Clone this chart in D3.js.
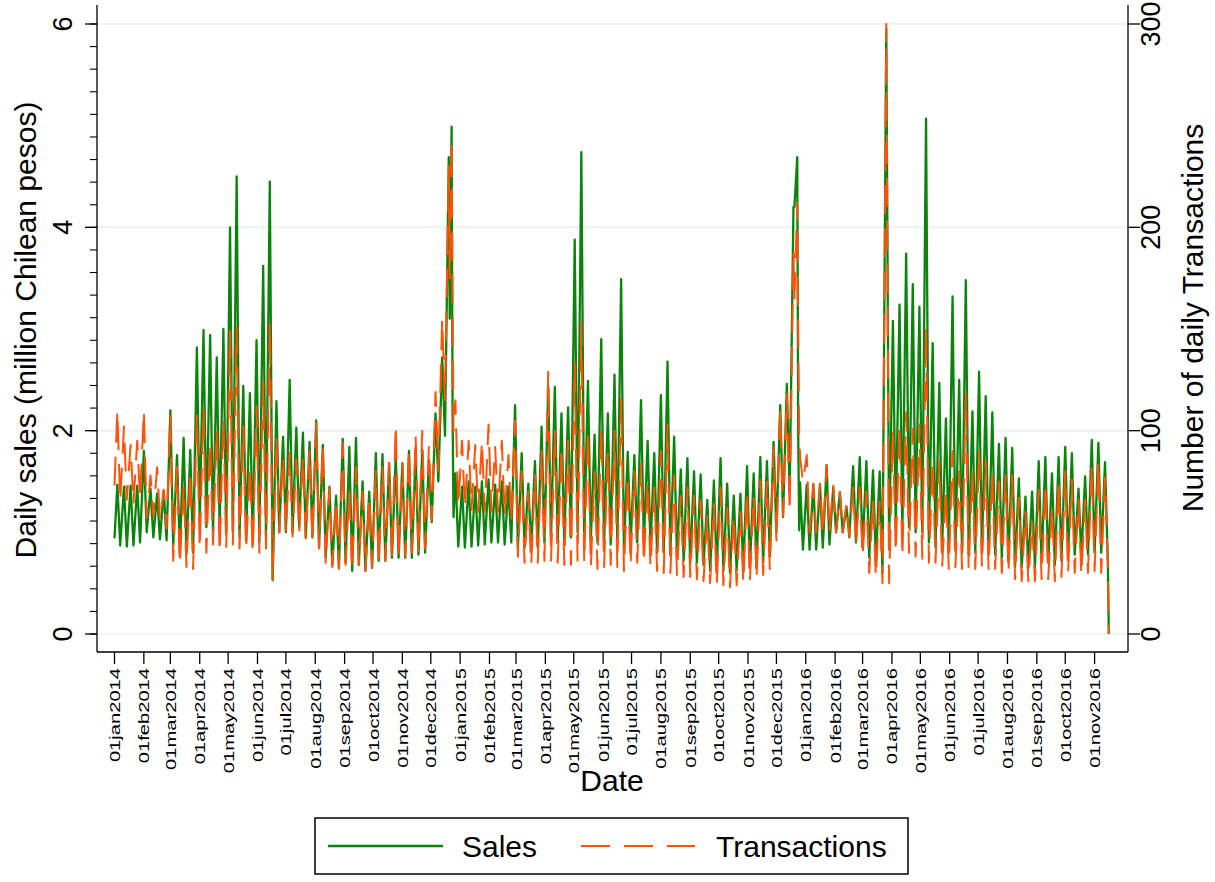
<!DOCTYPE html>
<html>
<head>
<meta charset="utf-8">
<script src="https://cdn.jsdelivr.net/npm/d3@7"></script>
<style>
  body { margin: 0; background: #fff; }
  svg { display: block; }
  text { font-family: "Liberation Sans", Arial, Helvetica, sans-serif; fill: #000; }
</style>
</head>
<body>
<svg id="chart" width="1215" height="882"></svg>
<script>
// Daily sales (million CLP) and number of daily transactions, weekly peaks and lows
const dates2014 = ["2014-01-01","2014-01-04","2014-01-07","2014-01-11","2014-01-14","2014-01-18","2014-01-21","2014-01-25","2014-01-28",
  "2014-02-01","2014-02-04","2014-02-08","2014-02-11","2014-02-15","2014-02-18","2014-02-22","2014-02-25",
  "2014-03-01","2014-03-04","2014-03-08","2014-03-11","2014-03-15","2014-03-18","2014-03-22","2014-03-25","2014-03-29",
  "2014-04-01","2014-04-05","2014-04-08","2014-04-12","2014-04-15","2014-04-19","2014-04-22","2014-04-26","2014-04-29",
  "2014-05-03","2014-05-06","2014-05-10","2014-05-13","2014-05-17","2014-05-20","2014-05-24","2014-05-27","2014-05-31",
  "2014-06-03","2014-06-07","2014-06-10","2014-06-14","2014-06-17","2014-06-21","2014-06-24","2014-06-28",
  "2014-07-01","2014-07-05","2014-07-08","2014-07-12","2014-07-15","2014-07-19","2014-07-22","2014-07-26","2014-07-29",
  "2014-08-02","2014-08-05","2014-08-09","2014-08-12","2014-08-16","2014-08-19","2014-08-23","2014-08-26","2014-08-30",
  "2014-09-02","2014-09-06","2014-09-09","2014-09-13","2014-09-16","2014-09-20","2014-09-23","2014-09-27","2014-09-30",
  "2014-10-04","2014-10-07","2014-10-11","2014-10-14","2014-10-18","2014-10-21","2014-10-25","2014-10-28",
  "2014-11-01","2014-11-04","2014-11-08","2014-11-11","2014-11-15","2014-11-18","2014-11-22","2014-11-25","2014-11-29",
  "2014-12-02","2014-12-06","2014-12-09","2014-12-13","2014-12-16","2014-12-20","2014-12-21","2014-12-23","2014-12-24",
  "2014-12-25","2014-12-27","2014-12-30"];
const sales2014 = [0.94,1.47,0.87,1.45,0.86,1.46,0.87,1.46,0.90,
  1.80,1.00,1.43,0.95,1.38,0.93,1.41,0.92,
  2.20,0.86,1.76,0.80,1.93,0.78,1.81,0.80,2.82,
  1.10,2.99,1.05,2.94,1.00,2.72,1.05,3.00,1.00,
  4.00,1.00,4.50,0.95,2.44,0.92,2.37,0.88,2.89,
  0.90,3.62,0.95,4.45,0.53,2.29,1.00,1.94,
  1.00,2.50,1.00,2.03,1.05,1.98,0.95,1.89,0.95,
  2.10,0.85,1.86,0.75,1.45,0.68,1.36,0.65,1.92,
  0.70,1.84,0.62,1.93,0.68,1.50,0.62,1.40,0.65,
  1.78,0.72,1.77,0.72,1.68,0.75,1.75,0.75,
  1.68,0.75,1.80,0.75,1.78,0.78,1.81,0.80,1.71,
  1.10,2.17,1.50,2.72,1.95,4.69,3.10,4.99,2.20,
  1.15,1.58,0.86];
const transactions2014 = [73,110,65,102,66,93,64,95,66,
  110,57,78,58,82,56,71,52,
  108,36,82,34,73,33,80,32,108,
  42,110,40,94,44,101,40,106,42,
  149,44,151,42,102,42,82,40,112,
  40,124,42,153,27,97,50,87,
  50,89,48,86,50,87,47,90,45,
  104,42,93,35,72,33,66,32,94,
  34,71,31,82,34,70,31,67,33,
  80,34,82,36,84,37,103,38,
  84,38,91,40,98,40,100,42,92,
  56,119,80,155,115,230,175,243,165,
  100,115,63];

const dates2015 = ["2015-01-03","2015-01-06","2015-01-10","2015-01-13","2015-01-17","2015-01-20","2015-01-24","2015-01-27","2015-01-31",
  "2015-02-03","2015-02-07","2015-02-10","2015-02-14","2015-02-17","2015-02-21","2015-02-24","2015-02-28",
  "2015-03-03","2015-03-07","2015-03-10","2015-03-14","2015-03-17","2015-03-21","2015-03-24","2015-03-28","2015-03-31",
  "2015-04-04","2015-04-07","2015-04-11","2015-04-14","2015-04-18","2015-04-21","2015-04-25","2015-04-28",
  "2015-05-02","2015-05-05","2015-05-09","2015-05-12","2015-05-16","2015-05-19","2015-05-23","2015-05-26","2015-05-30",
  "2015-06-02","2015-06-06","2015-06-09","2015-06-13","2015-06-16","2015-06-20","2015-06-23","2015-06-27","2015-06-30",
  "2015-07-04","2015-07-07","2015-07-11","2015-07-14","2015-07-18","2015-07-21","2015-07-25","2015-07-28",
  "2015-08-01","2015-08-04","2015-08-08","2015-08-11","2015-08-15","2015-08-18","2015-08-22","2015-08-25","2015-08-29",
  "2015-09-01","2015-09-05","2015-09-08","2015-09-12","2015-09-15","2015-09-19","2015-09-22","2015-09-26","2015-09-29",
  "2015-10-03","2015-10-06","2015-10-10","2015-10-13","2015-10-17","2015-10-20","2015-10-24","2015-10-27","2015-10-31",
  "2015-11-03","2015-11-07","2015-11-10","2015-11-14","2015-11-17","2015-11-21","2015-11-24","2015-11-28",
  "2015-12-01","2015-12-05","2015-12-08","2015-12-12","2015-12-15","2015-12-19","2015-12-20","2015-12-23","2015-12-24",
  "2015-12-25","2015-12-26","2015-12-29"];
const sales2015 = [1.45,0.85,1.50,0.86,1.45,0.87,1.50,0.88,1.52,
  0.90,1.47,0.90,1.50,0.88,1.45,0.90,2.25,
  0.85,1.78,0.85,1.48,0.82,1.70,0.85,2.04,0.90,
  2.43,0.95,2.43,0.90,2.17,0.92,2.23,0.95,
  3.88,1.00,4.74,0.95,2.49,0.92,1.96,0.90,2.90,
  0.90,2.17,0.88,2.55,0.90,3.49,0.85,1.79,0.88,
  1.76,0.90,2.30,0.90,1.90,0.85,1.78,0.80,
  2.35,0.80,2.68,0.80,1.94,0.75,1.62,0.72,1.73,
  0.70,1.60,0.70,1.57,0.68,1.32,0.62,1.51,0.62,
  1.73,0.62,1.48,0.60,1.36,0.62,1.38,0.63,1.65,
  0.65,1.58,0.66,1.74,0.70,1.70,0.76,1.89,
  1.00,2.25,1.15,2.46,1.39,4.20,4.20,4.69,2.00,
  1.02,1.49,0.83];
const transactions2015 = [95,62,95,61,93,60,95,60,103,
  60,92,60,95,58,88,55,105,
  38,80,35,70,34,78,35,90,36,
  129,36,100,35,92,34,95,34,
  133,36,153,35,100,33,80,32,102,
  33,90,34,100,33,116,31,78,34,
  80,35,84,35,75,33,72,31,
  90,30,103,30,78,29,68,28,72,
  28,68,27,66,26,58,25,64,24,
  72,24,62,23,58,24,60,25,70,
  26,68,27,76,29,75,32,92,
  46,111,58,118,60,189,165,212,150,
  99,87,75];

const dates2016 = ["2016-01-02","2016-01-05","2016-01-09","2016-01-12","2016-01-16","2016-01-19","2016-01-23","2016-01-26","2016-01-30",
  "2016-02-02","2016-02-06","2016-02-09","2016-02-13","2016-02-16","2016-02-20","2016-02-23","2016-02-27",
  "2016-03-01","2016-03-05","2016-03-08","2016-03-12","2016-03-15","2016-03-19","2016-03-22","2016-03-26","2016-03-29",
  "2016-04-02","2016-04-05","2016-04-09","2016-04-12","2016-04-16","2016-04-19","2016-04-23","2016-04-26","2016-04-30",
  "2016-05-03","2016-05-07","2016-05-10","2016-05-14","2016-05-17","2016-05-21","2016-05-24","2016-05-28","2016-05-31",
  "2016-06-04","2016-06-07","2016-06-11","2016-06-14","2016-06-18","2016-06-21","2016-06-25","2016-06-28",
  "2016-07-02","2016-07-05","2016-07-09","2016-07-12","2016-07-16","2016-07-19","2016-07-23","2016-07-26","2016-07-30",
  "2016-08-02","2016-08-06","2016-08-09","2016-08-13","2016-08-16","2016-08-20","2016-08-23","2016-08-27","2016-08-30",
  "2016-09-03","2016-09-06","2016-09-10","2016-09-13","2016-09-17","2016-09-20","2016-09-24","2016-09-27",
  "2016-10-01","2016-10-04","2016-10-08","2016-10-11","2016-10-15","2016-10-18","2016-10-22","2016-10-25","2016-10-29",
  "2016-11-01","2016-11-05","2016-11-08","2016-11-12","2016-11-15","2016-11-16"];
const sales2016 = [1.47,0.83,1.47,0.83,1.47,0.85,1.66,0.88,1.44,
  1.00,1.39,1.00,1.25,0.95,1.65,0.90,1.74,
  0.85,1.70,0.75,1.61,0.70,1.60,0.60,5.95,0.85,
  3.08,1.05,3.24,1.00,3.74,1.05,3.44,1.00,3.22,
  1.00,5.07,0.90,2.86,0.85,2.47,0.85,2.12,0.80,
  3.32,0.82,2.50,0.80,3.48,0.78,2.19,0.80,
  2.58,0.80,2.34,0.78,2.18,0.78,1.87,0.75,1.93,
  0.72,1.83,0.66,1.53,0.65,1.35,0.65,1.40,0.66,
  1.70,0.70,1.74,0.70,1.58,0.68,1.74,0.72,
  1.84,0.78,1.78,0.78,1.43,0.75,1.55,0.78,1.91,
  0.80,1.88,0.80,1.69,0.70,0.00];
const transactions2016 = [88,50,74,50,74,49,83,50,73,
  50,70,50,64,48,72,44,72,
  38,70,30,66,28,65,25,300,25,
  100,40,103,38,109,40,101,38,103,
  37,151,35,85,35,85,33,71,32,
  90,33,80,32,118,32,80,32,
  90,33,85,32,80,32,75,30,78,
  30,78,27,67,26,60,26,55,26,
  71,27,74,27,63,26,76,28,
  80,30,76,30,66,29,66,30,83,
  31,85,30,77,35,0];

// Axis ticks
const salesTicks = [0, 2, 4, 6];
const transactionTicks = [0, 100, 200, 300];
const dateTickStart = "2014-01-01";
const dateTickEnd = "2016-11-01";

const parse = d3.utcParse("%Y-%m-%d");
function build(dates, sales, tx) {
  return dates.map((d, i) => ({ date: parse(d), sales: sales[i], tx: tx[i] }));
}
const data = [].concat(
  build(dates2014, sales2014, transactions2014),
  build(dates2015, sales2015, transactions2015),
  build(dates2016, sales2016, transactions2016)
);

const svg = d3.select("#chart");
const W = 1215, H = 882;
const plot = { left: 97, right: 1128, top: 5, bottom: 652 };

svg.append("rect").attr("width", W).attr("height", H).attr("fill", "#fff");

const x = d3.scaleUtc()
  .domain([parse(dateTickStart), parse(dateTickEnd)])
  .range([114.5, 1094.6]);
const y = d3.scaleLinear().domain([0, 6]).range([634, 24]);
const y2 = d3.scaleLinear().domain([0, 300]).range([634, 24]);

// Horizontal grid
svg.append("g").selectAll("line").data(salesTicks).join("line")
  .attr("x1", plot.left).attr("x2", plot.right)
  .attr("y1", d => y(d)).attr("y2", d => y(d))
  .attr("stroke", "#e8eff1").attr("stroke-width", 1.6);

// Series
const lineSales = d3.line().x(d => x(d.date)).y(d => y(d.sales));
const lineTx = d3.line().x(d => x(d.date)).y(d => y2(d.tx));

svg.append("path").datum(data)
  .attr("d", lineSales)
  .attr("fill", "none").attr("stroke", "#0b840b")
  .attr("stroke-width", 2.3).attr("stroke-linejoin", "round");

svg.append("path").datum(data)
  .attr("d", lineTx)
  .attr("fill", "none").attr("stroke", "#ff5208")
  .attr("stroke-width", 2).attr("stroke-linejoin", "round")
  .attr("stroke-dasharray", "29,14");

// Left axis
const left = svg.append("g").attr("transform", `translate(${plot.left},0)`);
left.append("line").attr("y1", plot.top).attr("y2", plot.bottom).attr("stroke", "#000").attr("stroke-width", 1.3);
const leftMinor = d3.range(0, 6.0001, 2 / 9);
left.selectAll("line.mn").data(leftMinor).join("line").attr("class", "mn")
  .attr("x1", -7).attr("x2", 0).attr("y1", d => y(d)).attr("y2", d => y(d))
  .attr("stroke", "#000").attr("stroke-width", 1.1);
left.selectAll("line.mj").data(salesTicks).join("line").attr("class", "mj")
  .attr("x1", -12).attr("x2", 0).attr("y1", d => y(d)).attr("y2", d => y(d))
  .attr("stroke", "#000").attr("stroke-width", 1.3);
left.selectAll("text").data(salesTicks).join("text")
  .attr("transform", d => `translate(-25,${y(d)}) rotate(-90)`)
  .attr("text-anchor", "middle").attr("font-size", 27)
  .text(d => d);

svg.append("text")
  .attr("transform", `translate(36,330) rotate(-90)`)
  .attr("text-anchor", "middle").attr("font-size", 30)
  .text("Daily sales (million Chilean pesos)");

// Right axis
const right = svg.append("g").attr("transform", `translate(${plot.right},0)`);
right.append("line").attr("y1", plot.top).attr("y2", plot.bottom).attr("stroke", "#000").attr("stroke-width", 1.3);
right.selectAll("line.mj").data(transactionTicks).join("line").attr("class", "mj")
  .attr("x1", 0).attr("x2", 12).attr("y1", d => y2(d)).attr("y2", d => y2(d))
  .attr("stroke", "#000").attr("stroke-width", 1.3);
right.selectAll("text").data(transactionTicks).join("text")
  .attr("transform", d => `translate(32,${y2(d)}) rotate(-90)`)
  .attr("text-anchor", "middle").attr("font-size", 27)
  .text(d => d);

svg.append("text")
  .attr("transform", `translate(1203,318) rotate(-90)`)
  .attr("text-anchor", "middle").attr("font-size", 30)
  .text("Number of daily Transactions");

// Bottom axis
const monthTicks = d3.utcMonth.range(parse(dateTickStart), d3.utcDay.offset(parse(dateTickEnd), 1));
const fmt = d3.utcFormat("%d%b%Y");
const bottom = svg.append("g").attr("transform", `translate(0,${plot.bottom})`);
bottom.append("line").attr("x1", plot.left).attr("x2", plot.right).attr("stroke", "#000").attr("stroke-width", 1.3);
bottom.selectAll("line.mj").data(monthTicks).join("line").attr("class", "mj")
  .attr("x1", d => x(d)).attr("x2", d => x(d)).attr("y1", 0).attr("y2", 12)
  .attr("stroke", "#000").attr("stroke-width", 1.3);
bottom.selectAll("text").data(monthTicks).join("text")
  .attr("transform", d => `translate(${x(d) + 5.5},16) rotate(-90) scale(1.3,1)`)
  .attr("text-anchor", "end").attr("font-size", 15.5)
  .text(d => fmt(d).toLowerCase());

svg.append("text")
  .attr("x", 612).attr("y", 791)
  .attr("text-anchor", "middle").attr("font-size", 30)
  .text("Date");

// Legend
const lg = svg.append("g");
lg.append("rect").attr("x", 315).attr("y", 818).attr("width", 593).attr("height", 56)
  .attr("fill", "#fff").attr("stroke", "#000").attr("stroke-width", 1.5);
lg.append("line").attr("x1", 328).attr("x2", 443).attr("y1", 846).attr("y2", 846)
  .attr("stroke", "#0b840b").attr("stroke-width", 2.3);
lg.append("text").attr("x", 462).attr("y", 857).attr("font-size", 30).text("Sales");
lg.append("line").attr("x1", 581).attr("x2", 695).attr("y1", 846).attr("y2", 846)
  .attr("stroke", "#ff5208").attr("stroke-width", 2).attr("stroke-dasharray", "29,14");
lg.append("text").attr("x", 716).attr("y", 857).attr("font-size", 30).text("Transactions");
</script>
</body>
</html>
